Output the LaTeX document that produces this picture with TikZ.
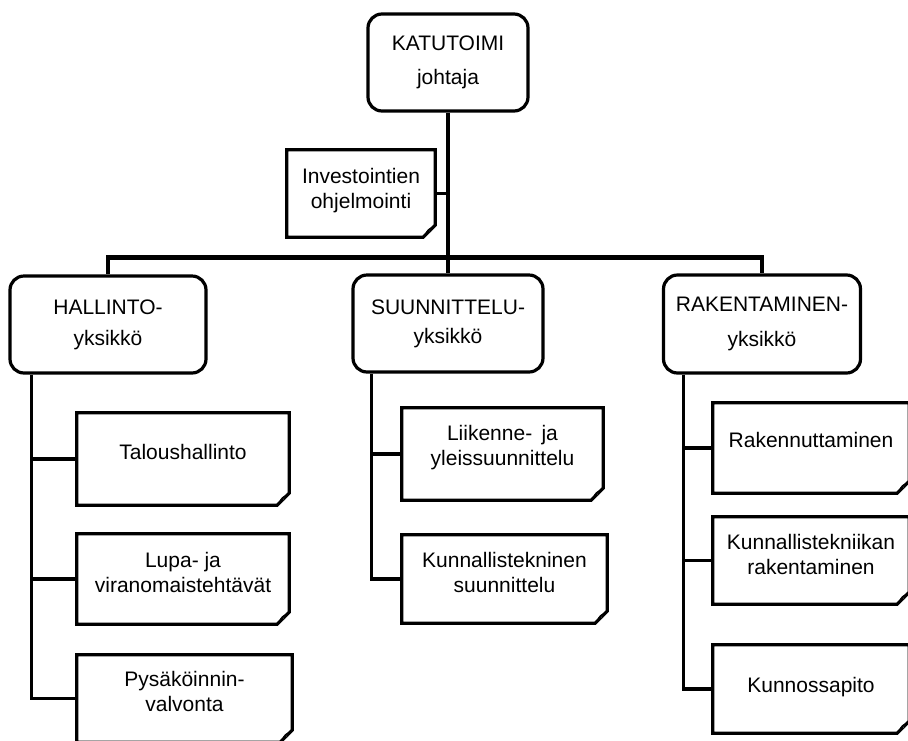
\documentclass[tikz,border=0pt]{standalone}
\usepackage{fontspec}
\setmainfont{Liberation Sans}
\begin{document}
\begin{tikzpicture}[x=1pt,y=-1pt,
  txt/.style={font=\fontsize{21}{25}\selectfont, align=center, inner sep=0pt},
  headbox/.style={draw, line width=3.2pt, rounded corners=14pt, inner sep=0pt,
    font=\fontsize{21}{25}\selectfont, align=center},
  leafbox/.style={draw=none, inner sep=0pt},
  conn/.style={line width=3.2pt},
  bar/.style={line width=5pt}]
\useasboundingbox (0,0) rectangle (908,740);
\clip (0,0) rectangle (908,740);

% head boxes
\node[headbox, minimum width=160pt, minimum height=97pt] (top) at (448,62.5) {KATUTOIMI\\[9pt]johtaja};
\node[headbox, minimum width=196pt, minimum height=97pt] (hal) at (108,324.5) {HALLINTO-\\[6pt]yksikkö};
\node[headbox, minimum width=190pt, minimum height=97pt] (suu) at (448,323.5) {SUUNNITTELU-\\[4pt]yksikkö};
\node[headbox, minimum width=197pt, minimum height=98pt] (rak) at (762,324) {RAKENTAMINEN-\\[10pt]yksikkö};

% leaf boxes (with dog-ear)
\node[leafbox, minimum width=148pt, minimum height=87pt] (inv) at (361,193.5) {};
\node[leafbox, minimum width=212pt, minimum height=92pt] (tal) at (183,459) {};
\node[leafbox, minimum width=212pt, minimum height=90pt] (lup) at (183,579) {};
\node[leafbox, minimum width=215pt, minimum height=87pt] (pys) at (184.5,698.5) {};
\node[leafbox, minimum width=201pt, minimum height=92pt] (lii) at (502.5,454) {};
\node[leafbox, minimum width=205pt, minimum height=88pt] (kun) at (504.5,579) {};
\node[leafbox, minimum width=196pt, minimum height=90pt] (rkn) at (811,448) {};
\node[leafbox, minimum width=196pt, minimum height=87pt] (kte) at (811,560.5) {};
\node[leafbox, minimum width=196pt, minimum height=88pt] (kps) at (811,689) {};

\foreach \n in {inv,tal,lup,pys,lii,kun,rkn,kte,kps}{
  \draw[line width=3.2pt, line join=miter]
    (\n.north west) -- (\n.north east) -- ([yshift=12pt]\n.south east)
    -- ([xshift=-12pt]\n.south east) -- (\n.south west) -- cycle;
  \begin{scope}[shift={(\n.south east)}]
    \fill (-12,0) -- (0,-12) -- (-2,-10) .. controls (-6,-10) and (-9,-7) .. (-10,-3) -- cycle;
    \draw[line width=1pt, fill=white] (-8.5,-3) .. controls (-7,-7) and (-5,-8) .. (-3,-8) .. controls (-5,-6) and (-6,-4) .. cycle;
  \end{scope}
}

% leaf texts
\node[txt] (inv-t) at ([yshift=3pt]inv.center) {Investointien\\ohjelmointi};
\node[txt] (tal-t) at ([yshift=7pt]tal.center) {Taloushallinto};
\node[txt] (lup-t) at ([yshift=7pt]lup.center) {Lupa- ja\\viranomaistehtävät};
\node[txt] (pys-t) at ([yshift=7pt]pys.center) {Pysäköinnin-\\valvonta};
\node[txt] (lii-t) at ([yshift=6pt]lii.center) {Liikenne-\, ja\\yleissuunnittelu};
\node[txt] (kun-t) at ([yshift=7pt]kun.center) {Kunnallistekninen\\suunnittelu};
\node[txt] (rkn-t) at ([yshift=8pt]rkn.center) {Rakennuttaminen};
\node[txt] (kte-t) at ([yshift=6pt]kte.center) {Kunnallistekniikan\\rakentaminen};
\node[txt] (kps-t) at ([yshift=2pt]kps.center) {Kunnossapito};

% bar and connectors
\coordinate (barL) at (108,257.5);
\coordinate (barR) at (762,257.5);
\draw[bar] ([xshift=-1.6pt]barL) -- ([xshift=1.6pt]barR);
\draw[conn] (top.south) -- (suu.north);
\draw[conn] (barL) -- (hal.north);
\draw[conn] (barR) -- (rak.north);
\draw[conn] (inv.east) -- (inv.east -| top.south);

\coordinate (hv) at ([xshift=23pt]hal.south west);
\draw[conn] (hv) |- (pys.west);
\draw[conn] (hv |- tal.west) -- (tal.west);
\draw[conn] (hv |- lup.west) -- (lup.west);

\coordinate (sv) at ([xshift=20pt]suu.south west);
\draw[conn] (sv) |- (kun.west);
\draw[conn] (sv |- lii.west) -- (lii.west);

\coordinate (rv) at ([xshift=21.5pt]rak.south west);
\draw[conn] (rv) |- (kps.west);
\draw[conn] (rv |- rkn.west) -- (rkn.west);
\draw[conn] (rv |- kte.west) -- (kte.west);
\end{tikzpicture}
\end{document}
